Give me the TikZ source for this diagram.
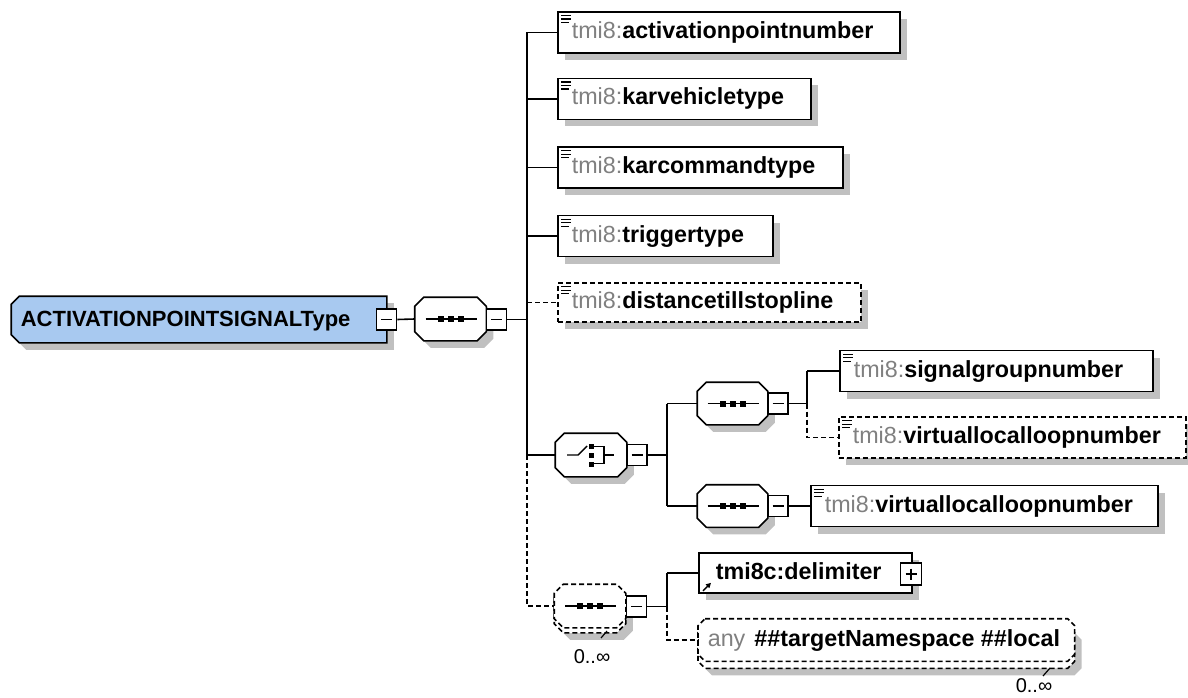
\documentclass[tikz,border=0pt]{standalone}
\usepackage{fontspec}
\setmainfont{Liberation Sans}
\usetikzlibrary{shadows,calc,arrows.meta}
\definecolor{rootblue}{RGB}{168,201,240}
\definecolor{shgray}{RGB}{192,192,192}
\definecolor{nsgray}{RGB}{128,128,128}
\newcommand\elfont{\fontsize{23.3}{27}\selectfont}
\newcommand\tm{\textcolor{nsgray}{\mdseries tmi8:}}
\newcommand\xelem[6]{%
  \node[#2,minimum width=#5pt] (#1) at (#3,#4) {};
  \draw[line width=1.4pt] ($(#1.north west)+(4,4.5)$) -- +(10,0)
    ($(#1.north west)+(4,8)$) -- +(10,0)
    ($(#1.north west)+(4,11.5)$) -- +(8,0);
  \node[etext] (#1-t) at ($(#1.west)+(14,6)$) {\tm #6};
}
\newcommand\minusmark[1]{\draw[line width=1.4pt] ($(#1.center)+(-5.5,0)$) -- ($(#1.center)+(5.5,0)$);}
\newcommand\plusmark[1]{\draw[line width=1.4pt] ($(#1.center)+(-5.5,0)$) -- ($(#1.center)+(5.5,0)$)
  ($(#1.center)+(0,-5.5)$) -- ($(#1.center)+(0,5.5)$);}
\newcommand\seqicon[1]{\draw[line width=1.6pt] ($(#1.center)+(-25,0)$) -- ($(#1.center)+(26,0)$);
  \foreach \dx in {-10,0,10} \fill ($(#1.center)+(\dx-3,-3)$) rectangle +(6,6);}
% octagon outline on a named rectangular node
\newcommand\octo[3]{\path[#3] ($(#1.north west)+(#2,0)$) -- ($(#1.north east)+(-#2,0)$)
  -- ($(#1.north east)+(0,#2)$) -- ($(#1.south east)+(0,-#2)$) -- ($(#1.south east)+(-#2,0)$)
  -- ($(#1.south west)+(#2,0)$) -- ($(#1.south west)+(0,-#2)$) -- ($(#1.north west)+(0,#2)$) -- cycle;}
\newcommand\octshape[3]{\octo{#1}{#2}{fill=shgray,transform canvas={shift={(7pt,-7pt)}}}%
  \octo{#1}{#2}{draw,fill=white,#3}}
\begin{document}
\begin{tikzpicture}[x=1pt,y=-1pt,line width=1.6pt,
  shdw/.style={general shadow={fill=shgray,shadow xshift=7pt,shadow yshift=-7pt}},
  dsh/.style={dash pattern=on 5pt off 3pt},
  elem/.style={draw,fill=white,shdw,rectangle,inner sep=0pt,anchor=west,minimum height=41pt},
  optelem/.style={elem,dsh},
  etext/.style={inner sep=0pt,anchor=base west,font=\elfont\bfseries},
  octn/.style={rectangle,inner sep=0pt,minimum width=70pt,minimum height=42pt},
  ctrl/.style={draw,fill=white,rectangle,inner sep=0pt,minimum width=20pt,minimum height=21pt},
  lbl/.style={inner sep=0pt,font=\fontsize{20}{24}\selectfont},
]
\useasboundingbox (0,0) rectangle (1188,698);

% root
\node[rectangle,inner sep=0pt,minimum width=374pt,minimum height=45pt] (root) at (199,319.5) {};
\path[fill=shgray,transform canvas={shift={(7pt,-7pt)}}] ($(root.north west)+(8,0)$) -- (root.north east) -- (root.south east)
  -- ($(root.south west)+(8,0)$) -- ($(root.south west)+(0,-8)$) -- ($(root.north west)+(0,8)$) -- cycle;
\path[draw,fill=rootblue] ($(root.north west)+(8,0)$) -- (root.north east) -- (root.south east)
  -- ($(root.south west)+(8,0)$) -- ($(root.south west)+(0,-8)$) -- ($(root.north west)+(0,8)$) -- cycle;
\node[etext,font=\fontsize{22}{26}\selectfont\bfseries] (root-t) at (20,326.5) {ACTIVATIONPOINTSIGNALType};

% top sequence
\node[octn] (seq1) at (450.5,319) {};
\octshape{seq1}{9}{}
\seqicon{seq1}

% elements of top sequence
\xelem{apn}{elem}{557}{32.5}{342}{activationpointnumber}
\xelem{kvt}{elem}{557}{99}{253}{karvehicletype}
\xelem{kct}{elem}{557}{167.5}{285}{karcommandtype}
\xelem{tt}{elem}{557}{236}{215}{triggertype}
\xelem{dts}{optelem,minimum height=39pt}{557}{302.5}{303}{distancetillstopline}

% choice
\node[octn] (choice) at (591,455) {};
\octshape{choice}{9}{}
\draw[line width=1.4pt] ($(choice.center)+(-24,0)$) -- ($(choice.center)+(-13,0)$) -- ($(choice.center)+(-4,-9)$);
\foreach \dy in {-9,0,9} \fill ($(choice.center)+(-2.5,\dy-2.5)$) rectangle +(5,5);
\draw[line width=1.4pt] ($(choice.center)+(2.5,-8.5)$) -- ($(choice.center)+(13,-8.5)$) -- ($(choice.center)+(13,8.5)$) -- ($(choice.center)+(2.5,8.5)$)
  ($(choice.center)+(13,0)$) -- ($(choice.center)+(23,0)$);

% sequences in choice
\node[octn,minimum width=69pt,minimum height=41pt] (seqA) at (732.5,403.5) {};
\octshape{seqA}{9}{}
\seqicon{seqA}
\node[octn,minimum width=69pt,minimum height=41pt] (seqB) at (732.5,506) {};
\octshape{seqB}{9}{}
\seqicon{seqB}

\xelem{sgn}{elem}{839}{371}{313}{signalgroupnumber}
\xelem{vlla}{optelem}{838}{437.5}{347}{virtuallocalloopnumber}
\xelem{vllb}{elem}{810}{506}{347}{virtuallocalloopnumber}

% bottom repeating sequence
\node[octn] (seq3) at (590,606) {};
\octo{seq3}{9}{fill=shgray,transform canvas={shift={(7pt,-12pt)}}}
\octo{seq3}{9}{draw,fill=white,dsh,transform canvas={shift={(0pt,-5pt)}}}
\octo{seq3}{9}{draw,fill=white,dsh}
\seqicon{seq3}
\node[lbl] (m1) at (592,657) {0..∞};
\draw[line width=1.2pt] (607,631) -- (601,638);

% delimiter
\node[elem,minimum width=213pt,minimum height=40pt] (delim) at (698,573) {};
\node[etext] (delim-t) at ($(delim.west)+(17,6)$) {tmi8c:delimiter};
\draw[line width=1.4pt,-{Triangle[length=5pt,width=5pt]}] ($(delim.south west)+(5,-3)$) -- +(8,-8);

% any
\node[rectangle,inner sep=0pt,minimum width=375pt,minimum height=41pt,anchor=west] (any) at (698,640) {};
\octo{any}{7}{fill=shgray,transform canvas={shift={(7pt,-14pt)}}}
\octo{any}{7}{draw,fill=white,dsh,transform canvas={shift={(0pt,-7pt)}}}
\octo{any}{7}{draw,fill=white,dsh}
\node[etext] (any-t) at ($(any.west)+(9,6)$) {\textcolor{nsgray}{\mdseries any}\hspace{9pt}\#\#targetNamespace \#\#local};
\node[lbl,anchor=south] (m2) at (1034,693) {0..∞};
\draw[line width=1.2pt] (1050,668) -- (1043,676);

% control boxes
\node[ctrl] (root-m) at (386.5,319.5) {}; \minusmark{root-m}
\node[ctrl] (seq1-m) at (496.5,319.5) {}; \minusmark{seq1-m}
\node[ctrl] (choice-m) at (637,455) {}; \minusmark{choice-m}
\node[ctrl] (seqA-m) at (778,403.5) {}; \minusmark{seqA-m}
\node[ctrl] (seqB-m) at (778,506) {}; \minusmark{seqB-m}
\node[ctrl] (seq3-m) at (636.5,606.5) {}; \minusmark{seq3-m}
\node[ctrl,minimum width=21pt,minimum height=22pt] (delim-p) at (911,574) {}; \plusmark{delim-p}

% spine coordinates
\coordinate (sp1) at (527,0);
\coordinate (sp2) at (667,0);
\coordinate (sp3) at (807,0);
\coordinate (sp4) at (667,0);

% connectors
\draw (root-m.east) -- (seq1.west);
\draw (seq1-m.east) -- (sp1 |- seq1-m.east);
\draw (sp1 |- apn.west) -- (sp1 |- choice.west);
\foreach \n in {apn,kvt,kct,tt,choice} \draw (sp1 |- \n.west) -- (\n.west);
\draw[dsh] (sp1 |- dts.west) -- (dts.west);
\draw[dsh] (sp1 |- choice.west) -- (sp1 |- seq3.west) -- (seq3.west);

\draw (choice-m.east) -- (sp2 |- choice-m.east);
\draw (sp2 |- seqA.west) -- (sp2 |- seqB.west);
\draw (sp2 |- seqA.west) -- (seqA.west);
\draw (sp2 |- seqB.west) -- (seqB.west);

\draw (seqA-m.east) -- (sp3 |- seqA-m.east);
\draw (sp3 |- sgn.west) -- (sp3 |- seqA-m.east);
\draw (sp3 |- sgn.west) -- (sgn.west);
\draw[dsh] (sp3 |- seqA-m.east) -- (sp3 |- vlla.west) -- (vlla.west);

\draw (seqB-m.east) -- (vllb.west);

\draw (seq3-m.east) -- (sp4 |- seq3-m.east);
\draw (sp4 |- delim.west) -- (sp4 |- seq3-m.east);
\draw (sp4 |- delim.west) -- (delim.west);
\draw[dsh] (sp4 |- seq3-m.east) -- (sp4 |- any.west) -- (any.west);
\end{tikzpicture}
\end{document}
